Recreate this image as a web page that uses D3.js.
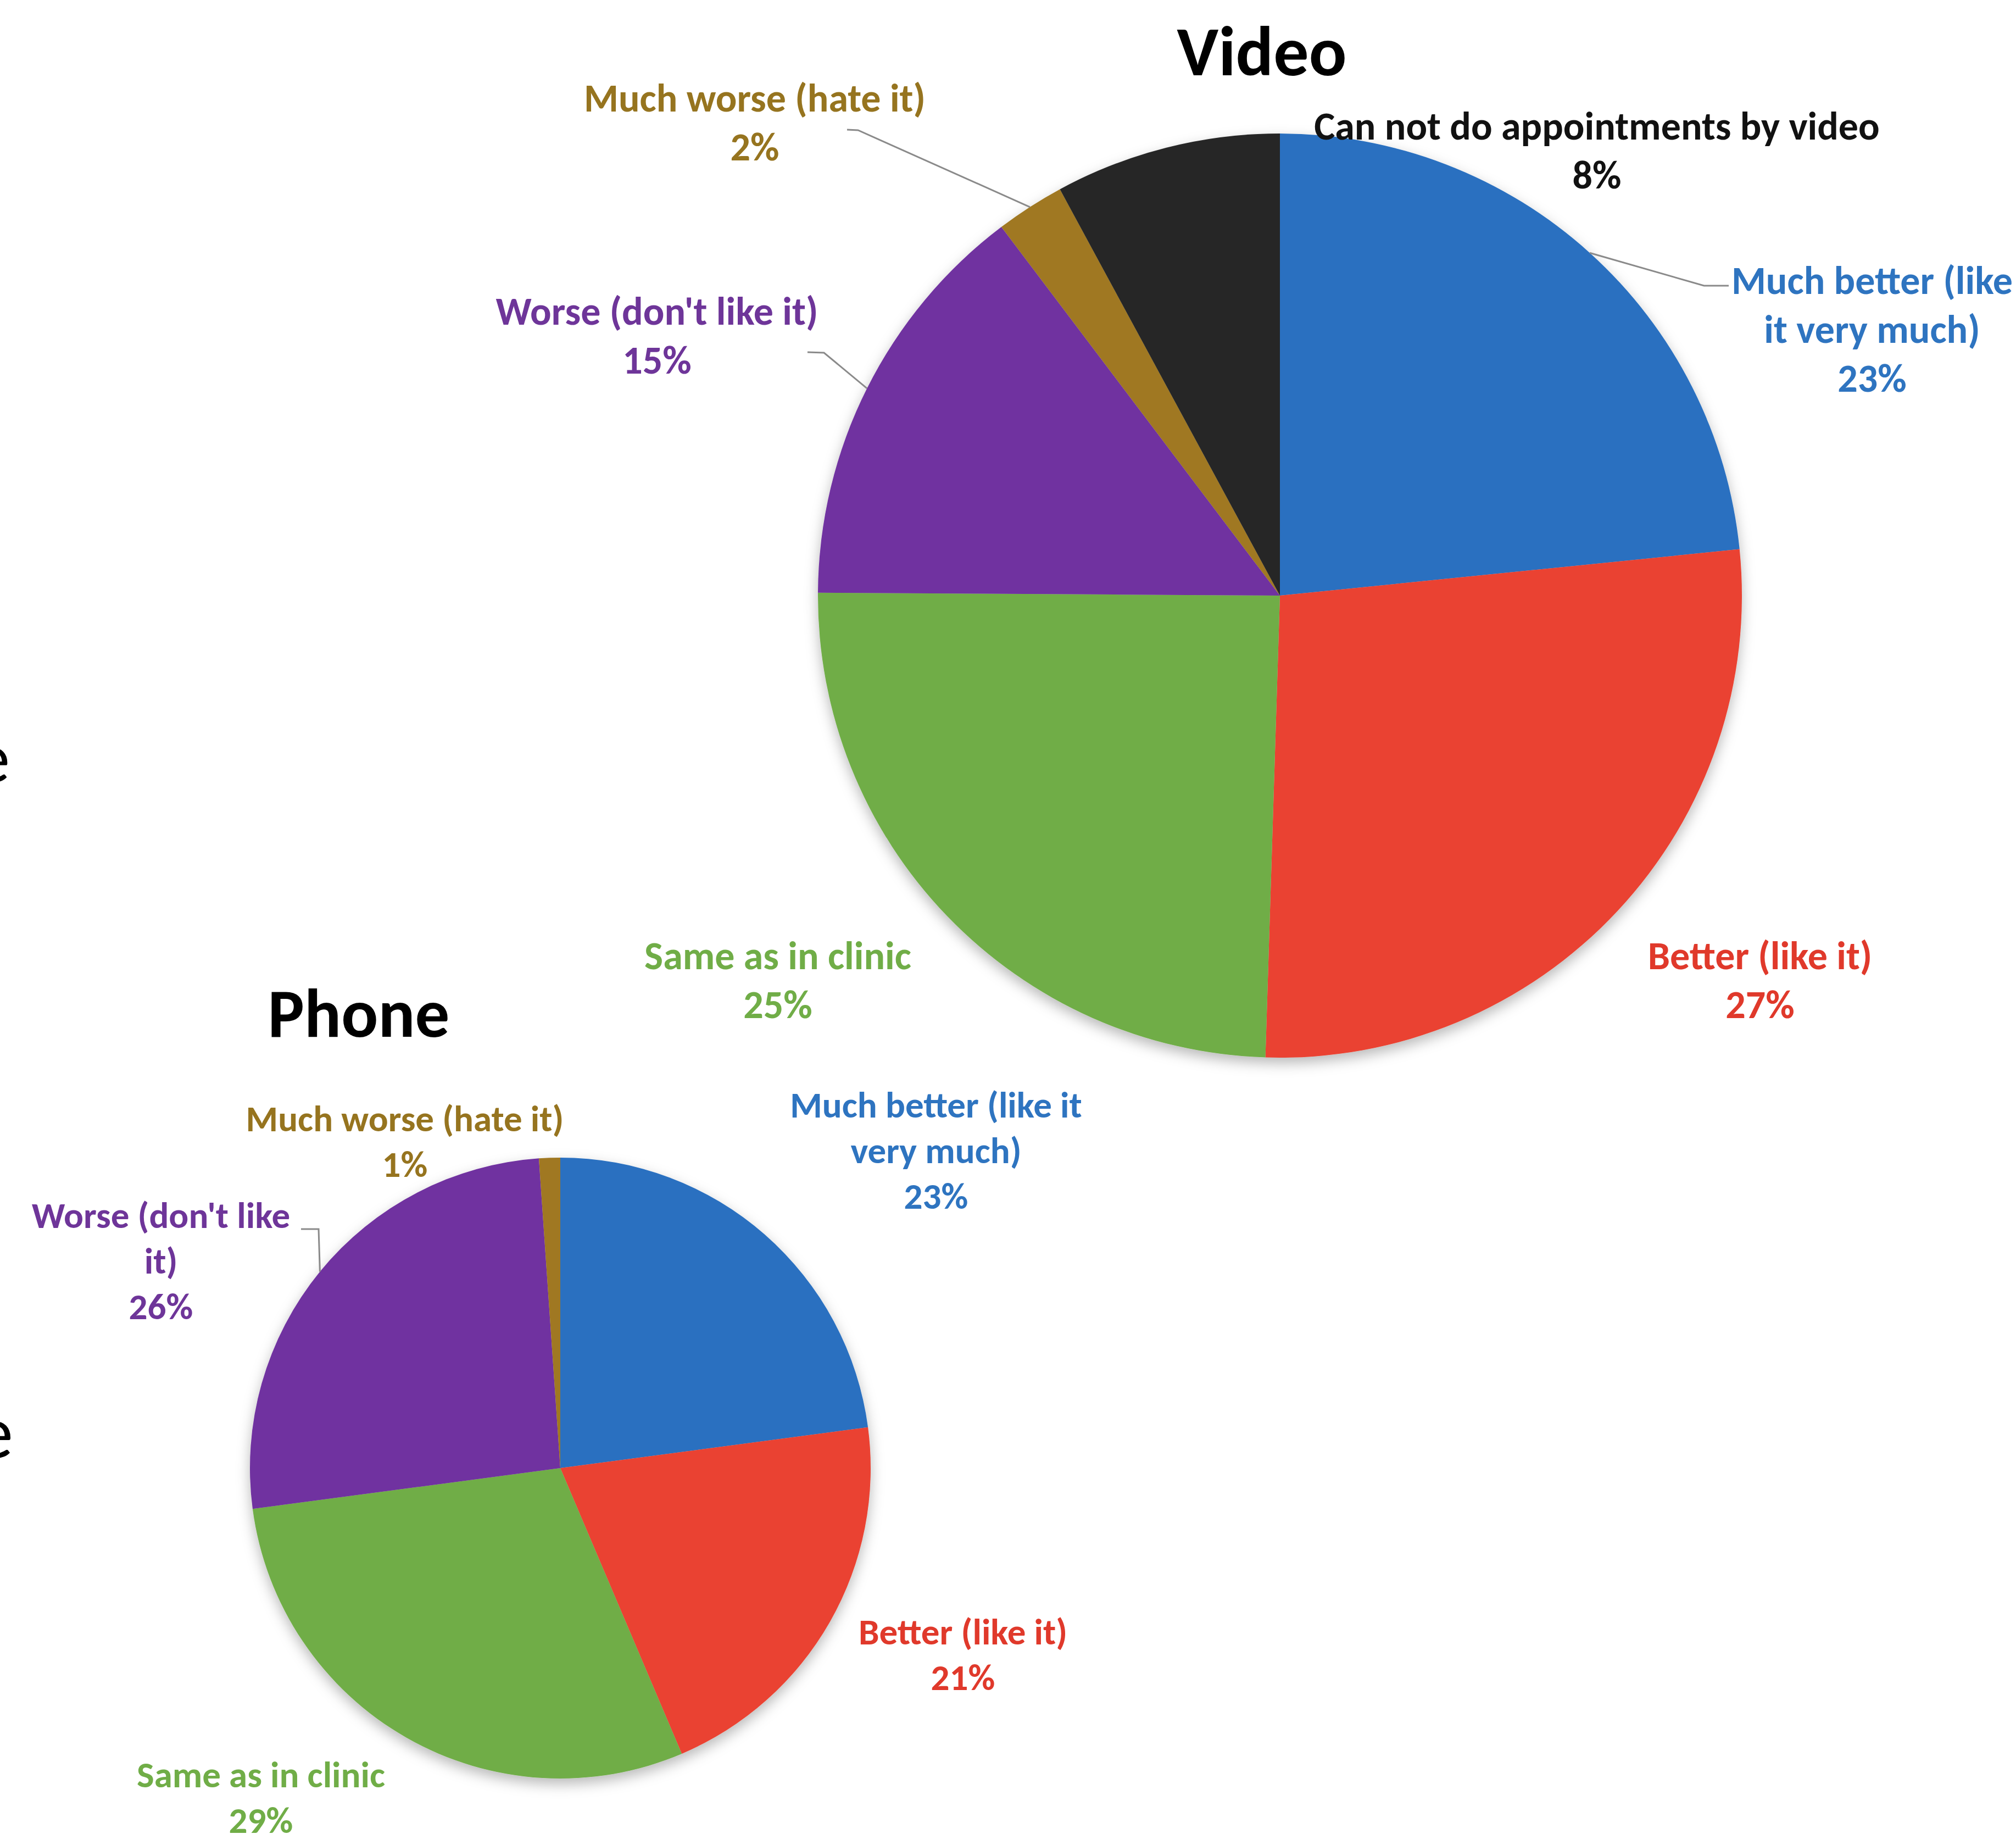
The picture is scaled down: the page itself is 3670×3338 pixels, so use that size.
<!DOCTYPE html>
<html>
<head>
<meta charset="utf-8">
<script src="https://cdn.jsdelivr.net/npm/d3@7"></script>
<style>
  html, body { margin: 0; padding: 0; background: #fff; overflow: hidden; }
  svg { display: block; }
  text { font-family: Carlito, Lato, "Open Sans", sans-serif; }
</style>
</head>
<body>
<svg id="chart" width="3670" height="3338"></svg>
<script>
// ---------- DATA ----------
const videoCategories = ["Much better (like it very much)", "Better (like it)", "Same as in clinic",
  "Worse (don't like it)", "Much worse (hate it)", "Can not do appointments by video"];
const videoValues = [23.4, 27.1, 24.6, 14.6, 2.4, 7.9];
const videoLabelLines = [["Much better (like", "it very much)"], ["Better (like it)"], ["Same as in clinic"],
  ["Worse (don't like it)"], ["Much worse (hate it)"], ["Can not do appointments by video"]];

const phoneCategories = ["Much better (like it very much)", "Better (like it)", "Same as in clinic",
  "Worse (don't like it)", "Much worse (hate it)"];
const phoneValues = [22.9, 20.7, 29.3, 26.0, 1.1];
const phoneLabelLines = [["Much better (like it", "very much)"], ["Better (like it)"], ["Same as in clinic"],
  ["Worse (don't like", "it)"], ["Much worse (hate it)"]];

const titles = ["Video", "Phone"];

// ---------- STYLE / LAYOUT ----------
const sliceColors = {
  "Much better (like it very much)": "#2970C0",
  "Better (like it)": "#EA4230",
  "Same as in clinic": "#70AD47",
  "Worse (don't like it)": "#7030A0",
  "Much worse (hate it)": "#A07820",
  "Can not do appointments by video": "#262626"
};
const labelColors = {
  "Much better (like it very much)": "#2E74C0",
  "Better (like it)": "#E0392B",
  "Same as in clinic": "#70AD47",
  "Worse (don't like it)": "#6E3599",
  "Much worse (hate it)": "#96741F",
  "Can not do appointments by video": "#111111"
};

const svg = d3.select("#chart");
const defs = svg.append("defs");
const f = defs.append("filter").attr("id", "shadow")
  .attr("x", "-10%").attr("y", "-10%").attr("width", "120%").attr("height", "125%");
f.append("feDropShadow").attr("dx", 0).attr("dy", 10).attr("stdDeviation", 12)
  .attr("flood-color", "#000").attr("flood-opacity", 0.28);

const charts = [
  {
    title: titles[0], titleX: 2297, titleY: 137, titleSize: 128,
    cx: 2330, cy: 1084, r: 841,
    cats: videoCategories, vals: videoValues, lines: videoLabelLines,
    fontSize: 72, lineH: 89,
    labelPos: [[3408, 510], [3204, 1739], [1416, 1739], [1196, 566], [1374, 178], [2907, 229]],
    leaders: { 0: [[3147, 520], [3102, 520]], 3: [[1470, 641], [1500, 642]], 4: [[1542, 236], [1562, 237]] }
  },
  {
    title: titles[1], titleX: 653, titleY: 1887, titleSize: 125,
    cx: 1020, cy: 2672, r: 565,
    cats: phoneCategories, vals: phoneValues, lines: phoneLabelLines,
    fontSize: 67, lineH: 83,
    labelPos: [[1704, 2011], [1753, 2970], [475, 3230], [293, 2212], [737, 2036]],
    leaders: { 3: [[548, 2237], [580, 2237]] }
  }
];

charts.forEach(c => {
  const data = c.cats.map((k, i) => ({ cat: k, value: c.vals[i], lines: c.lines[i] }));
  const pie = d3.pie().sort(null).value(d => d.value);
  const arcs = pie(data);
  const arc = d3.arc().innerRadius(0).outerRadius(c.r);

  const g = svg.append("g").attr("transform", `translate(${c.cx},${c.cy})`);
  g.append("g").attr("filter", "url(#shadow)")
    .selectAll("path").data(arcs).join("path")
    .attr("d", arc)
    .attr("fill", d => sliceColors[d.data.cat]);

  // leader lines
  const line = d3.line();
  arcs.forEach((a, i) => {
    if (!c.leaders[i]) return;
    const mid = (a.startAngle + a.endAngle) / 2;
    const edge = [c.cx + c.r * Math.sin(mid), c.cy - c.r * Math.cos(mid)];
    const pts = c.leaders[i].concat([edge]);
    svg.append("path").attr("d", line(pts))
      .attr("fill", "none").attr("stroke", "#8a8a8a").attr("stroke-width", 3);
  });

  // labels
  arcs.forEach((a, i) => {
    const [lx, ly] = c.labelPos[i];
    const rows = a.data.lines.concat([Math.round(a.data.value) + "%"]);
    const t = svg.append("text")
      .attr("text-anchor", "middle")
      .attr("font-size", c.fontSize)
      .attr("font-weight", 700)
      .attr("fill", labelColors[a.data.cat]);
    rows.forEach((r, j) => {
      t.append("tspan").attr("x", lx).attr("y", ly + j * c.lineH)
        .attr("dominant-baseline", "central").text(r);
    });
  });

  // title
  svg.append("text").attr("x", c.titleX).attr("y", c.titleY)
    .attr("text-anchor", "middle").attr("font-size", c.titleSize)
    .attr("font-weight", 700).attr("fill", "#000").text(c.title);
});

// cut-off text fragments at the left edge of the page
svg.append("text").attr("x", 18).attr("y", 1423).attr("text-anchor", "end")
  .attr("font-size", 128).attr("font-weight", 400).attr("fill", "#000").text("e");
svg.append("text").attr("x", 24).attr("y", 2653).attr("text-anchor", "end")
  .attr("font-size", 136).attr("font-weight", 400).attr("fill", "#000").text("e");
</script>
</body>
</html>
